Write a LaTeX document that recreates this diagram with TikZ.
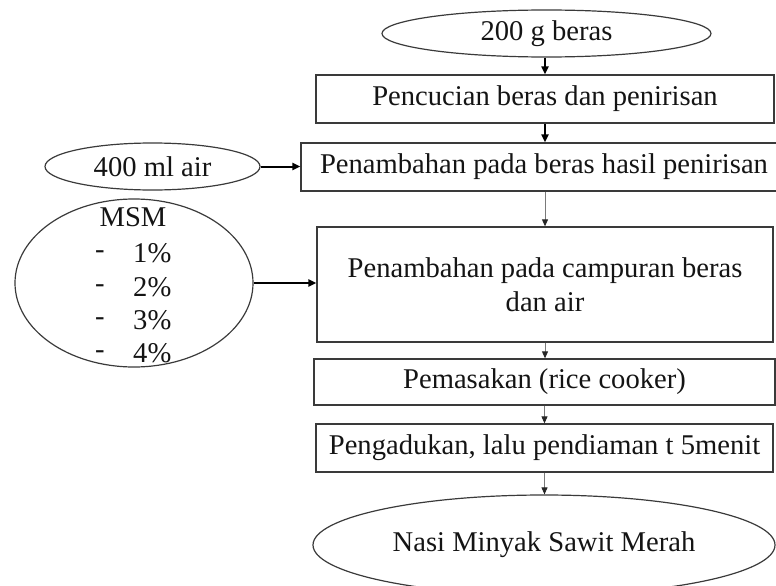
\documentclass[tikz,border=0pt]{standalone}
\usepackage{fontspec}
\setmainfont{Liberation Serif}
\usetikzlibrary{shapes.geometric,arrows.meta}
\definecolor{boxc}{HTML}{3A3A3A}
\definecolor{thinc}{HTML}{7A7A7A}
\begin{document}
\begin{tikzpicture}[x=1pt,y=-1pt,
  every node/.style={font=\fontsize{28.6}{33.5}\selectfont, text=black!92},
  box/.style={draw=boxc, line width=1.3pt, rectangle, inner sep=0pt},
  oval/.style={draw=boxc, line width=1.2pt, ellipse, inner sep=0pt},
  plain/.style={inner sep=0pt},
  thickarr/.style={-{Triangle[length=8pt,width=7pt]}, line width=2pt, draw=black},
  thinarr/.style={-{Triangle[length=7pt,width=6pt,color=black!85]}, line width=0.9pt, draw=thinc},
]
\useasboundingbox (0,0) rectangle (776,586);

% main column
\node[oval, minimum width=329pt, minimum height=47pt] (beras) at (546.5,33.5) {200 g beras};
\node[box, minimum width=458pt, minimum height=48pt] (wash) at (545,99) {Pencucian beras dan penirisan};
\node[box, minimum width=486pt, minimum height=48pt] (add1) at (544,167) {Penambahan pada beras hasil penirisan};
\node[box, minimum width=456pt, minimum height=115pt, align=center] (add2) at (545,284.5) {Penambahan pada campuran beras\\dan air};
\node[box, minimum width=461pt, minimum height=46pt] (cook) at (544.5,382) {Pemasakan (rice cooker)};
\node[box, minimum width=457pt, minimum height=48pt] (stir) at (544.5,448) {Pengadukan, lalu pendiaman t 5menit};
\node[oval, minimum width=462pt, minimum height=100pt] (nasi) at (544,545) {Nasi Minyak Sawit Merah};

% left inputs
\node[oval, minimum width=215pt, minimum height=47pt] (air) at (152.5,166.5) {400 ml air};
\node[oval, minimum width=238pt, minimum height=168pt] (msm) at (134,283) {};
\node[plain] (msmt) at (133,217) {MSM};
\node[plain] (d1) at (100,255) {-};
\node[plain] (d2) at (100,289) {-};
\node[plain] (d3) at (100,322) {-};
\node[plain] (d4) at (100,355) {-};
\node[plain, anchor=west] (p1) at (133,253) {1\%};
\node[plain, anchor=west] (p2) at (133,287) {2\%};
\node[plain, anchor=west] (p3) at (133,320) {3\%};
\node[plain, anchor=west] (p4) at (133,353) {4\%};

% connectors
\draw[thickarr] (wash.north |- beras.south) -- (wash.north);
\draw[thickarr] (wash.south) -- (wash.south |- add1.north);
\draw[thinarr] (add2.north |- add1.south) -- (add2.north);
\draw[thinarr] (add2.south) -- (add2.south |- cook.north);
\draw[thinarr] (cook.south) -- (cook.south |- stir.north);
\draw[thinarr] (stir.south) -- (stir.south |- nasi.north);
\draw[thickarr] (air.east) -- (air.east -| add1.west);
\draw[thickarr] (msm.east) -- (msm.east -| add2.west);
\end{tikzpicture}
\end{document}
